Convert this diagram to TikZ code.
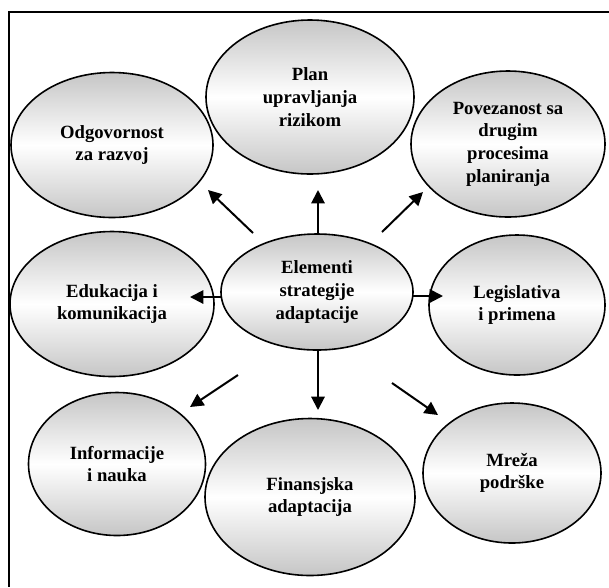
\documentclass[tikz,border=0pt]{standalone}
\usepackage{fontspec}
\setmainfont{Liberation Serif}
\usetikzlibrary{arrows.meta,shapes.geometric}

\begin{document}
\begin{tikzpicture}[x=0.75pt,y=-0.75pt]
    \useasboundingbox (0,0) rectangle (609,587);
    \draw[line width=1.5pt] (609,12) -- (9,12) -- (9,587);

    \begin{scope}[every node/.style={ellipse,draw,line width=1.2pt,inner sep=0pt,
        top color=gray!45,bottom color=gray!45,middle color=white,
        align=center,font=\bfseries\fontsize{14}{17}\selectfont}]
      \node[minimum width=156pt,minimum height=115.5pt] (plan) at (310,97) {Plan\\upravljanja\\rizikom};
      \node[minimum width=151.5pt,minimum height=108.75pt] (odg) at (112,145) {Odgovornost\\za razvoj};
      \node[minimum width=145.5pt,minimum height=109.5pt] (povez) at (508,144) {Povezanost sa\\drugim\\procesima\\planiranja};
      \node[minimum width=153pt,minimum height=108.75pt] (eduk) at (112,304) {Edukacija i\\komunikacija};
      \node[minimum width=132pt,minimum height=105pt] (legis) at (517,305) {Legislativa\\i primena};
      \node[minimum width=132.75pt,minimum height=107.25pt] (inform) at (117,464) {Informacije\\i nauka};
      \node[minimum width=157.5pt,minimum height=117.75pt] (finans) at (310,497) {Finansjska\\adaptacija};
      \node[minimum width=133.5pt,minimum height=105pt] (mreza) at (512,473) {Mreža\\podrške};
      \node[minimum width=144pt,minimum height=87pt] (centre) at (317,292) {Elementi\\strategije\\adaptacije};
    \end{scope}

    \begin{scope}[>={Triangle[length=10pt,width=10pt]},
        every edge/.style={draw,line width=1.5pt}]
      \path [->] ([shift={(-64,-59)}]centre.center) edge ([shift={(96,45)}]odg.center);
      \path [->] ([shift={(1,-59)}]centre.center) edge ([shift={(8,93)}]plan.center);
      \path [->] ([shift={(65,-60)}]centre.center) edge ([shift={(-85,48)}]povez.center);
      \path [->] ([shift={(-96,5)}]centre.center) edge ([shift={(78,-7)}]eduk.center);
      \path [->] ([shift={(96,4)}]centre.center) edge ([shift={(-74,-9)}]legis.center);
      \path [->] ([shift={(-79,83)}]centre.center) edge ([shift={(73,-57)}]inform.center);
      \path [->] ([shift={(1,58)}]centre.center) edge ([shift={(8,-87)}]finans.center);
      \path [->] ([shift={(75,91)}]centre.center) edge ([shift={(-74,-58)}]mreza.center);
    \end{scope}
  \end{tikzpicture}
\end{document}
